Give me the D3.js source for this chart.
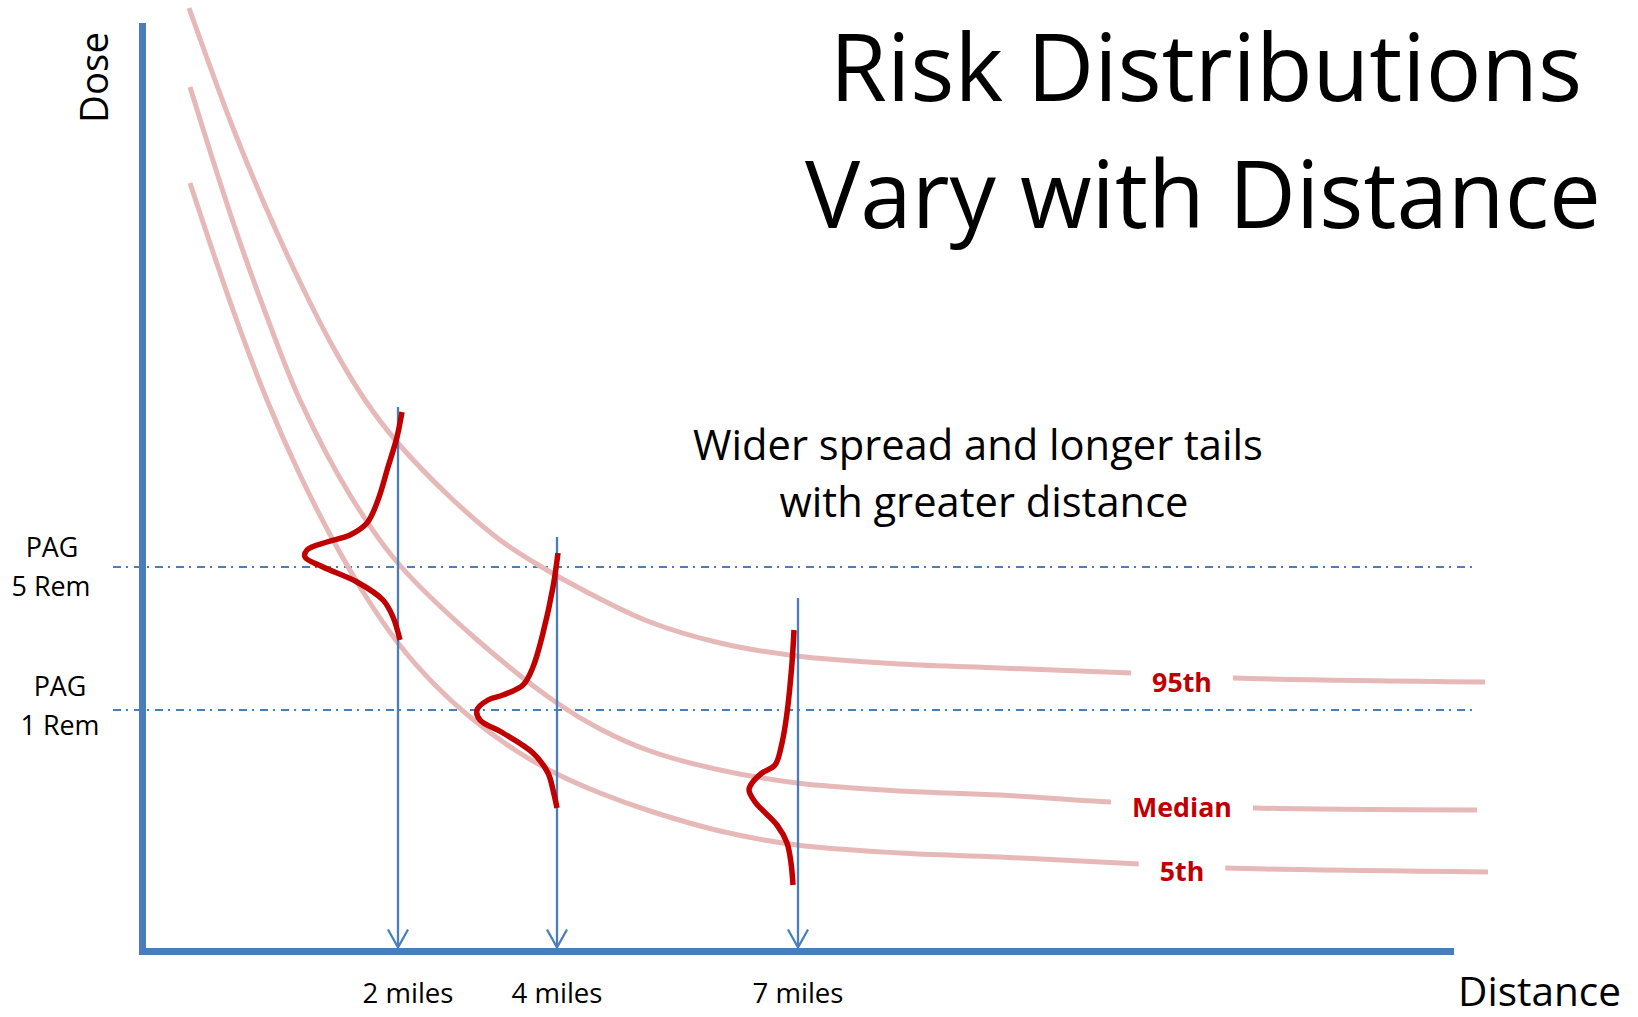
<!DOCTYPE html>
<html>
<head>
<meta charset="utf-8">
<script src="https://cdn.jsdelivr.net/npm/d3@7"></script>
<style>
  body { margin: 0; background: #fff; }
  svg { display: block; font-family: "Open Sans", sans-serif; }
</style>
</head>
<body>
<svg id="chart" width="1638" height="1017"></svg>
<script>
// All values in chart units: [distance, dose]

// percentile dose curves
const p95 = [[4.7, 94.3], [9.1, 82.3], [12.5, 74.1], [15.8, 66.9], [19.1, 60.4], [22.3, 55.1],
  [25.5, 50.9], [30.8, 45.4], [35.8, 41.1], [39.8, 38.5], [44.1, 36.1], [50.8, 32.9],
  [57.8, 30.8], [65.5, 29.5], [75.8, 28.7], [85.8, 28.3], [99.0, 27.8], [109.1, 27.3], [134.3, 26.9]];
const median = [[4.8, 86.4], [9.1, 72.9], [12.5, 63.4], [15.8, 55.1], [20.8, 45.6], [25.5, 38.9],
  [33.3, 31.3], [41.5, 24.8], [45.8, 22.2], [50.8, 20.0], [57.8, 18.1], [65.5, 16.8],
  [75.8, 16.0], [85.8, 15.6], [96.9, 14.9], [111.2, 14.3], [133.5, 14.1]];
const p5 = [[4.8, 76.8], [9.1, 64.1], [12.5, 55.1], [15.8, 47.6], [19.1, 41.1], [22.3, 35.6],
  [25.6, 30.8], [29.3, 26.6], [32.8, 23.4], [37.3, 20.1], [41.5, 17.7], [45.8, 15.8],
  [50.8, 14.0], [57.8, 12.0], [65.5, 10.6], [75.8, 9.8], [85.8, 9.4], [99.8, 8.7],
  [108.2, 8.3], [134.6, 7.9]];
const curveNames = ["95th", "Median", "5th"];
const curveLabelDist = 104;
const curveLabelDose = [25.9, 13.4, 7.0];

// sideways risk distributions at each distance
const dist2 = [[26.0, 53.9], [25.5, 51.4], [24.6, 48.4], [23.6, 45.1], [22.5, 42.8], [20.8, 41.6],
  [18.5, 40.9], [16.5, 40.1], [16.3, 39.4], [18.1, 38.4], [21.5, 36.9], [24.1, 35.1],
  [25.1, 33.4], [25.8, 31.1]];
const dist4 = [[41.6, 39.8], [41.1, 36.4], [40.1, 31.8], [39.1, 28.4], [38.1, 26.6], [36.1, 25.6],
  [34.6, 25.1], [33.5, 24.1], [33.8, 23.1], [36.1, 21.8], [39.1, 19.8], [40.6, 17.8],
  [41.1, 16.1], [41.5, 14.3]];
const dist7 = [[65.2, 32.1], [65.0, 28.8], [64.5, 23.8], [64.0, 20.8], [63.3, 18.6], [62.0, 17.8],
  [61.0, 16.8], [60.7, 16.1], [61.3, 14.9], [63.5, 12.6], [64.5, 10.8], [64.9, 8.8], [65.1, 6.6]];

// distance markers
const milesLabels = ["2 miles", "4 miles", "7 miles"];
const milesAt = [25.6, 41.5, 65.6];
const milesTop = [54.4, 41.4, 35.3];

// protective action guides
const pagLabels = ["5 Rem", "1 Rem"];
const pagDose = [38.4, 24.1];
const pagExtent = [-2.9, 133.1];

const svg = d3.select("#chart");

const x = d3.scaleLinear().domain([0, 130.8]).range([142, 1450]);
const y = d3.scaleLinear().domain([0, 92.5]).range([951, 26]);

const blue = "#4A7EBB", pink = "#E6B9B8", red = "#C00000";

// font scale: fallback font vs original width
const probe = svg.append("text").attr("font-size", 100).text("Vary with Distance");
const k = (100 * 796 / probe.node().getComputedTextLength()) / 106;
probe.remove();
const fs = px => px * k;

// size a text so its width matches the picture
function fitSize(str, width, weight) {
  const t = svg.append("text").attr("font-size", 100)
    .attr("font-weight", weight || "normal").text(str);
  const s = 100 * width / t.node().getComputedTextLength();
  t.remove();
  return s;
}

const line = d3.line().x(d => x(d[0])).y(d => y(d[1]));
const curveLine = d3.line().x(d => x(d[0])).y(d => y(d[1]))
  .curve(d3.curveCatmullRom.alpha(0.5));

// PAG dash-dot lines
svg.selectAll(".pag-line")
  .data(pagDose)
  .join("path")
  .attr("class", "pag-line")
  .attr("d", d => line(pagExtent.map(e => [e, d])))
  .attr("stroke", blue)
  .attr("stroke-width", 2.2)
  .attr("stroke-dasharray", "8,5,2,6")
  .attr("fill", "none");

// percentile curves
svg.selectAll(".pct")
  .data([p95, median, p5])
  .join("path")
  .attr("class", "pct")
  .attr("d", curveLine)
  .attr("stroke", pink)
  .attr("stroke-width", 5)
  .attr("fill", "none");

// curve labels with gap
const labelSize = fitSize("Median", 100, "bold");
curveNames.forEach((name, i) => {
  const t = svg.append("text")
    .attr("x", x(curveLabelDist))
    .attr("y", y(curveLabelDose[i]))
    .attr("text-anchor", "middle")
    .attr("font-weight", "bold")
    .attr("font-size", labelSize)
    .attr("fill", red)
    .text(name);
  const bb = t.node().getBBox();
  svg.insert("rect", "text")
    .attr("x", bb.x - 21).attr("y", bb.y)
    .attr("width", bb.width + 42).attr("height", bb.height)
    .attr("fill", "#fff");
});

// distance marker arrows
milesAt.forEach((m, i) => {
  const bx = x(m), by = y(0) - 3.5, ty = y(milesTop[i]);
  svg.append("line")
    .attr("x1", bx).attr("y1", ty).attr("x2", bx).attr("y2", by)
    .attr("stroke", blue).attr("stroke-width", 2.3);
  svg.append("path")
    .attr("d", `M${bx - 10},${by - 18}L${bx},${by}L${bx + 10},${by - 18}`)
    .attr("stroke", blue).attr("stroke-width", 2.3).attr("fill", "none");
});

// risk distributions
svg.selectAll(".dist")
  .data([dist2, dist4, dist7])
  .join("path")
  .attr("class", "dist")
  .attr("d", curveLine)
  .attr("stroke", red)
  .attr("stroke-width", 5.5)
  .attr("fill", "none");

// axes: plain thick lines
const yAxis = svg.append("g")
  .attr("transform", `translate(${x(0)},0)`)
  .call(d3.axisLeft(y).tickValues([]).tickSizeOuter(0));
const xAxis = svg.append("g")
  .attr("transform", `translate(0,${y(0)})`)
  .call(d3.axisBottom(x).tickValues([]).tickSizeOuter(0));
[yAxis, xAxis].forEach(a => a.select(".domain")
  .attr("stroke", blue)
  .attr("stroke-width", 7)
  .attr("stroke-linecap", "square"));

// distance labels
const milesSize = fitSize("2 miles", 91);
svg.selectAll(".miles")
  .data(milesLabels)
  .join("text")
  .attr("class", "miles")
  .attr("x", (d, i) => x(milesAt[i]) + (i === 0 ? 10 : 0))
  .attr("y", 1003)
  .attr("text-anchor", "middle")
  .attr("font-size", milesSize)
  .text(d => d);

// PAG labels
const pagSize = fitSize("5 Rem", 79);
pagLabels.forEach((lab, i) => {
  const cx = i === 0 ? 52 : 60;
  const base = y(pagDose[i]) - (i === 0 ? 10 : 14);
  const t = svg.append("text")
    .attr("text-anchor", "middle")
    .attr("font-size", pagSize);
  t.append("tspan").attr("x", cx).attr("y", base).text("PAG");
  t.append("tspan").attr("x", cx - (i === 0 ? 1 : 0)).attr("y", base + 39).text(lab);
});

// axis titles
svg.append("text")
  .attr("transform", "translate(108,77.5) rotate(-90)")
  .attr("text-anchor", "middle")
  .attr("font-size", fitSize("Dose", 91))
  .text("Dose");
svg.append("text")
  .attr("x", 1458).attr("y", 1006)
  .attr("font-size", fitSize("Distance", 163))
  .text("Distance");

// title
const title = svg.append("text")
  .attr("text-anchor", "middle")
  .attr("font-size", fs(106));
title.append("tspan").attr("x", 1206).attr("y", 101).text("Risk Distributions");
title.append("tspan").attr("x", 1203).attr("y", 228).text("Vary with Distance");

// note
const note = svg.append("text")
  .attr("text-anchor", "middle")
  .attr("font-size", fitSize("Wider spread and longer tails", 570));
note.append("tspan").attr("x", 978).attr("y", 460).text("Wider spread and longer tails");
note.append("tspan").attr("x", 984).attr("y", 517).text("with greater distance");
</script>
</body>
</html>
